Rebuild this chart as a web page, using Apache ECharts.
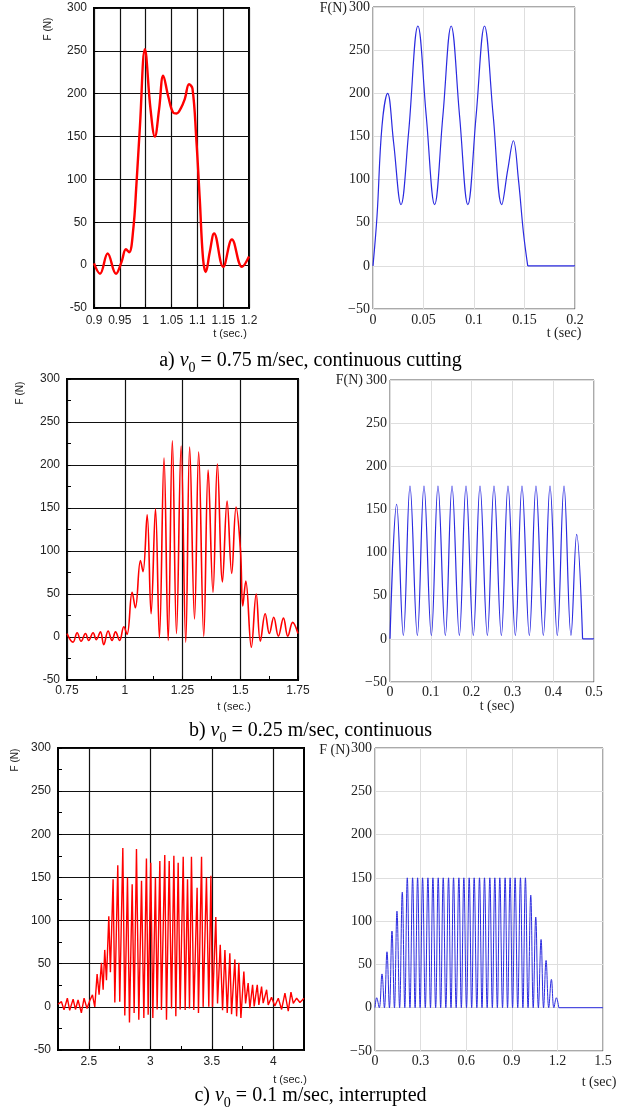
<!DOCTYPE html>
<html><head><meta charset="utf-8">
<script src="https://cdn.jsdelivr.net/npm/echarts/dist/echarts.min.js"></script>
<style>html,body{margin:0;padding:0;background:#fff}#c{width:621px;height:1111px}</style>
</head><body><div id="c"></div>
<script>
// ---------- data: [t (sec), F (N)] ----------
// a) v0 = 0.75 m/sec — experiment (red)
const expA = [[0.9,2],[0.9116,-10],[0.9264,13.5],[0.9425,-10],[0.9534,4],[0.9618,18.5],[0.968,15],[0.976,42],[0.982,93],[0.989,163],[0.9985,252],[1.0094,182],[1.0178,150],[1.026,182],[1.034,221],[1.0436,197],[1.0532,178],[1.0597,177],[1.068,183],[1.0758,194],[1.084,211],[1.0906,206],[1.098,147],[1.1047,77],[1.111,8],[1.1163,-8],[1.124,15],[1.1325,37],[1.15,-2],[1.167,30],[1.1865,-2],[1.2,10]];
// a) simulation (blue)
const simA = [[0,0],[0.004,58],[0.0089,162],[0.0145,200],[0.0204,143],[0.0277,71],[0.0352,154],[0.0445,278],[0.0527,174],[0.061,71],[0.0692,174],[0.0774,278],[0.0857,174],[0.0939,71],[0.1021,174],[0.1104,278],[0.119,174],[0.1275,71],[0.1335,112],[0.139,145],[0.144,100],[0.1489,39],[0.1532,0]];
const simATail = [[0.1532,0],[0.2,0]];
// b) v0 = 0.25 m/sec — experiment
const expB = [[0.75,4],[0.776,-6],[0.794,5],[0.811,-5],[0.830,4],[0.844,-4],[0.863,5],[0.877,-3],[0.895,6],[0.909,-9],[0.928,7],[0.945,-4],[0.960,6],[0.978,-4],[0.996,12],[1.010,3],[1.032,52],[1.046,34],[1.068,89],[1.079,76],[1.097,142],[1.114,27],[1.133,149],[1.150,-1],[1.170,208],[1.188,-4],[1.206,228],[1.224,4],[1.244,222],[1.264,-6],[1.281,221],[1.302,21],[1.320,215],[1.342,1],[1.361,194],[1.382,52],[1.401,201],[1.423,64],[1.443,158],[1.463,74],[1.482,151],[1.501,101],[1.511,36],[1.524,65],[1.548,-12],[1.569,50],[1.587,-5],[1.608,27],[1.626,4],[1.645,23],[1.665,1],[1.687,22],[1.706,1],[1.727,17],[1.75,4]];
// b) simulation
const simB = [[0,0],[0.0163,156],[0.0327,4],[0.049,177],[0.067,4],[0.0833,177],[0.1013,4],[0.1176,177],[0.1356,4],[0.152,177],[0.170,4],[0.1863,177],[0.2042,4],[0.2206,177],[0.2386,4],[0.2549,177],[0.2729,4],[0.2892,177],[0.3072,4],[0.3235,177],[0.3415,4],[0.3578,177],[0.3758,4],[0.3922,177],[0.410,4],[0.4265,177],[0.4436,4],[0.4575,121],[0.472,0]];
const simBTail = [[0.472,0],[0.5,0]];
// c) v0 = 0.1 m/sec — experiment
const expC = [[2.25,3],[2.278,6],[2.299,-3.5],[2.326,10],[2.345,-4],[2.373,9],[2.392,-3],[2.413,8],[2.440,-7],[2.462,10],[2.486,-2],[2.508,7],[2.530,14],[2.549,0],[2.568,38],[2.584,14],[2.603,51],[2.617,20],[2.630,66],[2.644,31],[2.663,105],[2.676,40],[2.698,148],[2.712,5],[2.736,164],[2.752,6],[2.777,184],[2.793,-10],[2.815,150],[2.831,-18],[2.853,142],[2.869,-7],[2.888,183],[2.907,-15],[2.929,146],[2.948,-13],[2.969,172],[2.983,-9],[3.004,167],[3.021,-13],[3.042,150],[3.056,-3],[3.078,169],[3.091,-3.5],[3.118,176],[3.132,-15],[3.154,169],[3.173,-2],[3.192,175],[3.208,-11],[3.227,167],[3.243,-3],[3.268,174],[3.284,-3.5],[3.303,148],[3.319,-2],[3.335,174],[3.354,-3.5],[3.381,138],[3.392,-7],[3.417,174],[3.430,0],[3.457,150],[3.476,0],[3.493,152],[3.506,0],[3.533,104],[3.547,4],[3.569,72],[3.588,-4],[3.607,66],[3.626,-7],[3.647,62],[3.661,-8.5],[3.688,55],[3.702,-11],[3.720,51],[3.737,-13],[3.761,41],[3.775,4],[3.796,27.5],[3.810,-1.6],[3.832,25.6],[3.845,0.4],[3.870,25.6],[3.883,2.3],[3.905,23.6],[3.918,4.3],[3.946,19.8],[3.959,2.3],[3.986,11],[4.013,1],[4.041,10],[4.068,-3],[4.095,16],[4.122,-5],[4.144,17],[4.163,4],[4.190,10],[4.217,5],[4.25,10]];
// c) simulation
const simC = [[0,0],[0.011,11.5],[0.028,0],[0.046,39],[0.062,0],[0.0788,64.6],[0.095,0],[0.1117,88.5],[0.128,0],[0.1445,111.5],[0.162,0],[0.1795,133.5],[0.196,0],[0.2124,150],[0.230,0],[0.2474,150],[0.264,0],[0.2803,150],[0.297,0],[0.3131,150],[0.331,0],[0.3481,150],[0.365,0],[0.381,150],[0.399,0],[0.416,150],[0.432,0],[0.4489,150],[0.466,0],[0.4839,150],[0.500,0],[0.5167,150],[0.534,0],[0.5518,150],[0.568,0],[0.5846,150],[0.602,0],[0.6197,150],[0.636,0],[0.6525,150],[0.670,0],[0.6875,150],[0.704,0],[0.7204,150],[0.738,0],[0.7554,150],[0.772,0],[0.7883,150],[0.805,0],[0.8211,150],[0.839,0],[0.8561,150],[0.872,0],[0.889,150],[0.905,0],[0.9218,150],[0.939,0],[0.9569,150],[0.973,0],[0.9897,150],[1.007,0],[1.0247,130],[1.041,0],[1.0576,104.6],[1.075,0],[1.0926,78.8],[1.109,0],[1.1255,54.6],[1.143,0],[1.1605,32.7],[1.177,0],[1.1933,11.5],[1.209,0]];
const simCTail = [[1.209,0],[1.5,0]];

// axis ranges [min, max, interval]
const yRange = [-50, 300, 50];
const xRangeExpA = [0.9, 1.2, 0.05];
const xRangeSimA = [0, 0.2, 0.05];
const xRangeExpB = [0.75, 1.75, 0.25];
const xRangeSimB = [0, 0.5, 0.1];
const xRangeExpC = [2.25, 4.25, 0.25];
const xRangeSimC = [0, 1.5, 0.3];

const captions = [
  ['a) ', '0', ' = 0.75 m/sec, continuous cutting'],
  ['b) ', '0', ' = 0.25 m/sec, continuous'],
  ['c) ', '0', ' = 0.1 m/sec, interrupted']
];

// ---------- layout ----------
const SANS = '"Liberation Sans", Arial, sans-serif';
const SERIF = '"Liberation Serif", "Times New Roman", serif';
const RED = '#ff0000', BLUE = '#2a2ae0';

const grids = [
  {left: 94,  top: 8,   width: 155, height: 300, kind: 'exp'},
  {left: 373, top: 7,   width: 202, height: 302, kind: 'sim'},
  {left: 67,  top: 379, width: 231, height: 301, kind: 'exp'},
  {left: 390, top: 380, width: 204, height: 302, kind: 'sim'},
  {left: 58,  top: 748, width: 246, height: 302, kind: 'exp'},
  {left: 375, top: 748, width: 228, height: 303, kind: 'sim'}
];
const xRanges = [xRangeExpA, xRangeSimA, xRangeExpB, xRangeSimB, xRangeExpC, xRangeSimC];
const minorY = [false, false, true, false, true, false];
const minorX = [false, false, true, false, false, false];
const xLabelMargin = [7, 4, 5, 3, 6, 3];

const gridOpts = grids.map(g => ({
  left: g.left, top: g.top, width: g.width, height: g.height, show: true,
  backgroundColor: 'transparent',
  borderColor: g.kind === 'exp' ? '#000' : '#555',
  borderWidth: g.kind === 'exp' ? 2 : 1,
  containLabel: false
}));

const minusFmt = v => String(v).replace('-', '\u2212');

const yAxes = grids.map((g, i) => {
  const exp = g.kind === 'exp';
  return {
    gridIndex: i, type: 'value', position: 'left', min: yRange[0], max: yRange[1], interval: yRange[2],
    axisLine: {show: false, onZero: false},
    axisTick: {show: exp, inside: true, length: 4, lineStyle: {color: '#000'}},
    minorTick: {show: minorY[i], splitNumber: 2, length: 4, lineStyle: {color: '#000', width: 1}},
    splitLine: {show: true, lineStyle: {color: exp ? '#111' : '#dedede', width: exp ? 1.2 : 1}},
    axisLabel: exp
      ? {color: '#222', fontFamily: SANS, fontSize: 12, margin: 7}
      : {color: '#222', fontFamily: SERIF, fontSize: 14, margin: 3, formatter: minusFmt}
  };
});

const xAxes = grids.map((g, i) => {
  const exp = g.kind === 'exp';
  const r = xRanges[i];
  const ax = {
    gridIndex: i, type: 'value', position: 'bottom', min: r[0], max: r[1], interval: r[2],
    axisLine: {show: false, onZero: false},
    axisTick: {show: exp, inside: true, length: 4, lineStyle: {color: '#000'}},
    minorTick: {show: minorX[i], splitNumber: 2, length: 4, lineStyle: {color: '#000', width: 1}},
    splitLine: {show: true, lineStyle: {color: exp ? '#111' : '#dedede', width: exp ? 1.2 : 1}},
    axisLabel: exp
      ? {color: '#222', fontFamily: SANS, fontSize: 12, margin: xLabelMargin[i]}
      : {color: '#222', fontFamily: SERIF, fontSize: 14, margin: xLabelMargin[i]}
  };
  if (i === 4) {
    // grid lines and labels only every 0.5 s, small ticks every 0.25 s
    ax.splitLine.lineStyle.color = ['rgba(0,0,0,0)', '#111'];
    ax.axisLabel.formatter = v => (Math.abs(v * 2 - Math.round(v * 2)) < 1e-6 ? String(v) : '');
  }
  return ax;
});

function line(i, data, color, width, smooth) {
  return {type: 'line', xAxisIndex: i, yAxisIndex: i, data: data, showSymbol: false, symbol: 'none',
    smooth: smooth, lineStyle: {color: color, width: width}, itemStyle: {color: color}, z: 5,
    silent: true, animation: false};
}

const series = [
  line(0, expA, RED, 2.4, 0.4),
  line(1, simA, BLUE, 1.2, 0.4), line(1, simATail, BLUE, 1.2, false),
  line(2, expB, RED, 1.6, 0.4),
  line(3, simB, BLUE, 1.2, 0.4), line(3, simBTail, BLUE, 1.2, false),
  line(4, expC, RED, 1.4, false),
  line(5, simC, BLUE, 1, 0.4), line(5, simCTail, BLUE, 1, false)
];

function txt(x, y, text, font, size, align, rot) {
  return {type: 'text', x: x, y: y, rotation: rot || 0, silent: true,
    style: {text: text, fontFamily: font, fontSize: size, fill: '#222', align: align || 'center', verticalAlign: 'middle'}};
}
const graphics = [
  txt(48, 29, 'F (N)', SANS, 10, 'center', Math.PI / 2),
  txt(230, 334, 't (sec.)', SANS, 11),
  txt(347, 8, 'F(N)', SERIF, 14, 'right'),
  txt(564, 333, 't (sec)', SERIF, 14),
  txt(20, 393, 'F (N)', SANS, 10, 'center', Math.PI / 2),
  txt(234, 707, 't (sec.)', SANS, 11),
  txt(363, 380, 'F(N)', SERIF, 14, 'right'),
  txt(497, 706, 't (sec)', SERIF, 14),
  txt(15, 760, 'F (N)', SANS, 10, 'center', Math.PI / 2),
  txt(290, 1080, 't (sec.)', SANS, 11),
  txt(350, 750, 'F (N)', SERIF, 14, 'right'),
  txt(599, 1082, 't (sec)', SERIF, 14)
];

const rich = {
  n: {fontFamily: SERIF, fontSize: 20, fontWeight: 'normal', color: '#000', lineHeight: 26},
  v: {fontFamily: SERIF, fontSize: 20, fontWeight: 'normal', fontStyle: 'italic', color: '#000', lineHeight: 26},
  s: {fontFamily: SERIF, fontSize: 14, fontWeight: 'normal', color: '#000', verticalAlign: 'top', padding: [14, 0, 0, 0]}
};
const capTops = [347, 717, 1082];
const titles = captions.map((c, k) => ({
  text: '{n|' + c[0] + '}{v|v}{s|' + c[1] + '}{n|' + c[2] + '}',
  left: 'center', top: capTops[k], padding: 0,
  textStyle: {fontWeight: 'normal', rich: rich}
}));

const chart = echarts.init(document.getElementById('c'), null, {renderer: 'canvas'});
chart.setOption({
  animation: false,
  backgroundColor: '#fff',
  title: titles,
  grid: gridOpts,
  xAxis: xAxes,
  yAxis: yAxes,
  series: series,
  graphic: graphics
});
</script></body></html>
